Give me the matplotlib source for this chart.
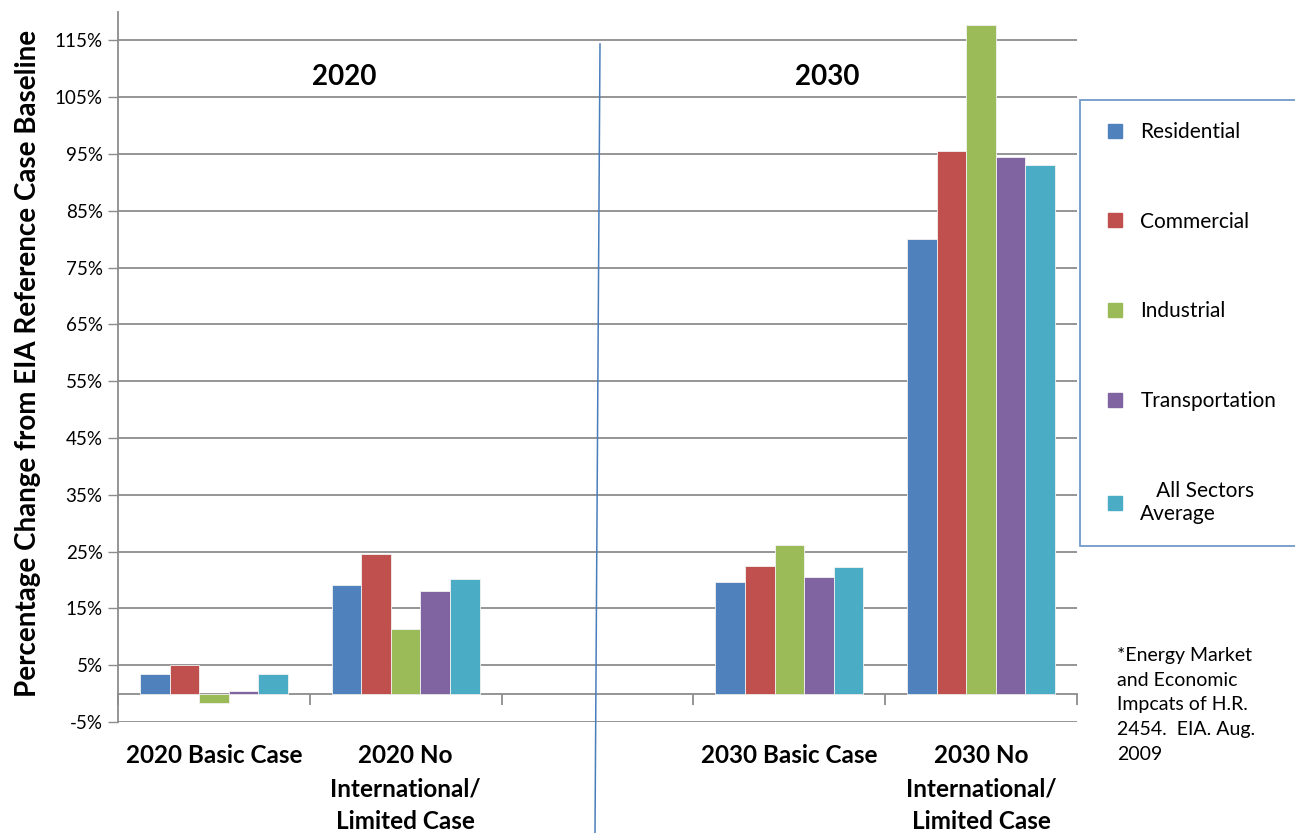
"""
EIA estimate of price changes by sector under H.R. 2454, shown as
percentage change from the reference case baseline for 2020 and 2030.
"""

import numpy as np
import matplotlib
matplotlib.use('Agg')
import matplotlib.pyplot as plt
from matplotlib.lines import Line2D

plt.rcParams['font.family'] = ['Lato', 'DejaVu Sans']

cases = ['2020 Basic Case', '2020 No\nInternational/\nLimited Case', '',
         '2030 Basic Case', '2030 No\nInternational/\nLimited Case']
sectors = ['Residential', 'Commercial', 'Industrial', 'Transportation', '   All Sectors\nAverage']

# percent change per case (empty middle slot is the gap between years)
residential = [3.5, 19.2, np.nan, 19.7, 80.0]
commercial = [5.1, 24.6, np.nan, 22.5, 95.6]
industrial = [-1.6, 11.3, np.nan, 26.2, 117.7]
transportation = [0.4, 18.1, np.nan, 20.5, 94.4]
all_sectors = [3.5, 20.2, np.nan, 22.2, 93.1]

colors = ['#4F81BD', '#C0504D', '#9BBB59', '#8064A2', '#4BACC6']
yticks = list(range(-5, 120, 10))

fig = plt.figure(figsize=(12.95, 8.33), dpi=100)
ax = fig.add_axes([0.0911, 0.1333, 0.7406, 0.8523])

x = np.arange(len(cases))
w = 0.154
series = [residential, commercial, industrial, transportation, all_sectors]
for i, (vals, c) in enumerate(zip(series, colors)):
    ax.bar(x + (i - 2) * w, vals, width=w, color=c, edgecolor='#f2f2f2', linewidth=0.6, zorder=3)

ax.set_xlim(-0.5, len(cases) - 0.5)
ax.set_ylim(-5, 120)
ax.set_yticks(yticks)
ax.set_yticklabels([f'{t}%' for t in yticks], fontsize=13.5)
ax.grid(axis='y', color='#8c8c8c', linewidth=1.3, zorder=0)
ax.tick_params(axis='y', length=7, width=1, color='#8c8c8c', pad=4)

# category axis sits on the zero line, ticks mark the group boundaries
ax.spines['bottom'].set_position(('data', 0))
ax.spines['bottom'].set_color('#8c8c8c')
ax.spines['bottom'].set_linewidth(1.3)
ax.spines['left'].set_color('#8c8c8c')
ax.spines['left'].set_linewidth(1.3)
ax.spines['top'].set_visible(False)
ax.spines['right'].set_visible(False)
ax.set_xticks(x)
ax.set_xticklabels(cases, fontsize=17.5, fontweight='bold', linespacing=1.55, va='top')
ax.tick_params(axis='x', length=0, pad=36)
ax.set_xticks(np.arange(-0.5, len(cases)), minor=True)
ax.tick_params(axis='x', which='minor', length=8, width=1.3, color='#8c8c8c')

fig.text(28 / 1295, 1 - 363 / 833, 'Percentage Change from EIA Reference Case Baseline',
         fontsize=20, fontweight='bold', rotation=90, ha='center', va='center')

ax.text(0.68, 108.5, '2020', fontsize=20, fontweight='bold', ha='center', va='center')
ax.text(3.2, 108.5, '2030', fontsize=20, fontweight='bold', ha='center', va='center')

# divider between the two years
fig.add_artist(Line2D([600 / 1295, 595 / 1295], [1 - 44 / 833, 0], color='#4a7ebb', linewidth=1.1))

handles = [Line2D([], [], marker='s', linestyle='', color=c, markersize=10) for c in colors]
leg = fig.legend(handles, sectors, loc='upper left', bbox_to_anchor=(1080 / 1295, 1 - 100 / 833),
                 fontsize=15, frameon=True, fancybox=False, labelspacing=3.35,
                 handletextpad=0.55, borderpad=1.05, handlelength=1.3, borderaxespad=0)
leg.get_frame().set_edgecolor('#4F81BD')
leg.get_frame().set_linewidth(1.3)

fig.text(1117 / 1295, 1 - 647 / 833,
         '*Energy Market\nand Economic\nImpcats of H.R.\n2454.  EIA. Aug.\n2009',
         fontsize=14, ha='left', va='top', linespacing=1.55)

fig.savefig('out.png', dpi=100)
